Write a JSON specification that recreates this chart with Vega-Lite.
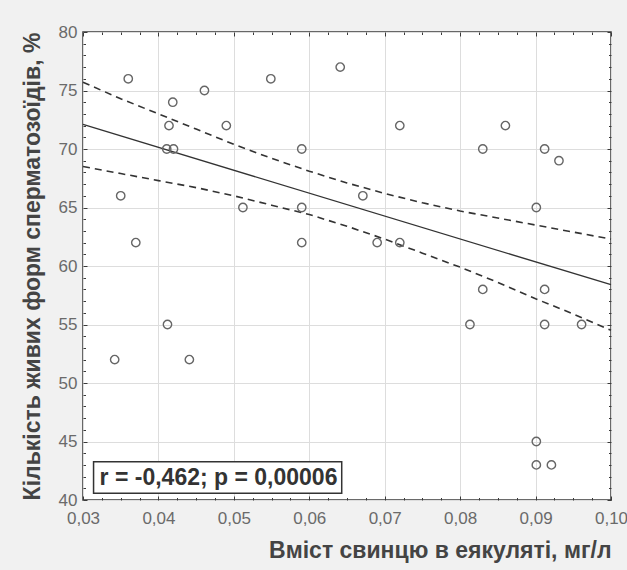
{
  "$schema": "https://vega.github.io/schema/vega-lite/v6.json",
  "width": 528,
  "height": 468,
  "autosize": "none",
  "padding": {"left": 83, "top": 32, "right": 16, "bottom": 70},
  "background": "#f1f1f1",
  "config": {
    "view": {"fill": "white", "stroke": "#3a3a3a", "strokeWidth": 1.5},
    "font": "Liberation Sans"
  },
  "datasets": {
    "points": [
      {"x": 0.036, "y": 76}, {"x": 0.035, "y": 66}, {"x": 0.037, "y": 62},
      {"x": 0.0414, "y": 72}, {"x": 0.0419, "y": 74}, {"x": 0.0411, "y": 70},
      {"x": 0.042, "y": 70}, {"x": 0.0461, "y": 75}, {"x": 0.049, "y": 72},
      {"x": 0.0512, "y": 65}, {"x": 0.0549, "y": 76}, {"x": 0.059, "y": 70},
      {"x": 0.059, "y": 65}, {"x": 0.059, "y": 62}, {"x": 0.0641, "y": 77},
      {"x": 0.072, "y": 72}, {"x": 0.0671, "y": 66}, {"x": 0.069, "y": 62},
      {"x": 0.072, "y": 62}, {"x": 0.083, "y": 70}, {"x": 0.086, "y": 72},
      {"x": 0.0912, "y": 70}, {"x": 0.0931, "y": 69}, {"x": 0.0901, "y": 65},
      {"x": 0.083, "y": 58}, {"x": 0.0912, "y": 58}, {"x": 0.0813, "y": 55},
      {"x": 0.0912, "y": 55}, {"x": 0.0961, "y": 55}, {"x": 0.0901, "y": 45},
      {"x": 0.0901, "y": 43}, {"x": 0.0921, "y": 43}, {"x": 0.0412, "y": 55},
      {"x": 0.0342, "y": 52}, {"x": 0.0441, "y": 52}
    ],
    "fit": [
      {"x": 0.03, "y": 72.1}, {"x": 0.10, "y": 58.4}
    ],
    "band": [
      {"series": "upper", "x": 0.030, "y": 75.7},
      {"series": "upper", "x": 0.035, "y": 74.3},
      {"series": "upper", "x": 0.040, "y": 73.0},
      {"series": "upper", "x": 0.045, "y": 71.7},
      {"series": "upper", "x": 0.050, "y": 70.4},
      {"series": "upper", "x": 0.055, "y": 69.2},
      {"series": "upper", "x": 0.060, "y": 68.1},
      {"series": "upper", "x": 0.065, "y": 67.1},
      {"series": "upper", "x": 0.070, "y": 66.2},
      {"series": "upper", "x": 0.075, "y": 65.4},
      {"series": "upper", "x": 0.080, "y": 64.7},
      {"series": "upper", "x": 0.085, "y": 64.1},
      {"series": "upper", "x": 0.090, "y": 63.5},
      {"series": "upper", "x": 0.095, "y": 62.9},
      {"series": "upper", "x": 0.100, "y": 62.3},
      {"series": "lower", "x": 0.030, "y": 68.5},
      {"series": "lower", "x": 0.035, "y": 67.9},
      {"series": "lower", "x": 0.040, "y": 67.3},
      {"series": "lower", "x": 0.045, "y": 66.7},
      {"series": "lower", "x": 0.050, "y": 66.0},
      {"series": "lower", "x": 0.055, "y": 65.2},
      {"series": "lower", "x": 0.060, "y": 64.4},
      {"series": "lower", "x": 0.065, "y": 63.4},
      {"series": "lower", "x": 0.070, "y": 62.3},
      {"series": "lower", "x": 0.075, "y": 61.1},
      {"series": "lower", "x": 0.080, "y": 59.9},
      {"series": "lower", "x": 0.085, "y": 58.6},
      {"series": "lower", "x": 0.090, "y": 57.2},
      {"series": "lower", "x": 0.095, "y": 55.9},
      {"series": "lower", "x": 0.100, "y": 54.5}
    ]
  },
  "layer": [
    {
      "data": {"name": "fit"},
      "mark": {"type": "line", "stroke": "#333333", "strokeWidth": 1.3},
      "encoding": {
        "x": {
          "field": "x", "type": "quantitative",
          "scale": {"domain": [0.03, 0.10], "nice": false, "zero": false},
          "axis": {
            "orient": "top", "labels": false, "grid": false, "domain": false, "title": null,
            "values": [0.03,0.0325,0.035,0.0375,0.04,0.0425,0.045,0.0475,0.05,0.0525,0.055,0.0575,0.06,0.0625,0.065,0.0675,0.07,0.0725,0.075,0.0775,0.08,0.0825,0.085,0.0875,0.09,0.0925,0.095,0.0975,0.1],
            "tickColor": "#3a3a3a",
            "tickSize": {"condition": {"test": "abs(datum.value*100-round(datum.value*100))<1e-6", "value": -4}, "value": -2.5}
          }
        },
        "y": {
          "field": "y", "type": "quantitative",
          "scale": {"domain": [40, 80], "nice": false, "zero": false},
          "axis": {
            "orient": "right", "labels": false, "grid": false, "domain": false, "title": null,
            "values": [40,41,42,43,44,45,46,47,48,49,50,51,52,53,54,55,56,57,58,59,60,61,62,63,64,65,66,67,68,69,70,71,72,73,74,75,76,77,78,79,80],
            "tickColor": "#3a3a3a",
            "tickSize": {"condition": {"test": "datum.value % 5 == 0", "value": -4}, "value": -2.5}
          }
        }
      }
    },
    {
      "data": {"name": "band"},
      "mark": {"type": "line", "stroke": "#333333", "strokeWidth": 1.6, "strokeDash": [7, 5]},
      "encoding": {
        "x": {"field": "x", "type": "quantitative", "axis": null},
        "y": {"field": "y", "type": "quantitative", "axis": null},
        "detail": {"field": "series"}
      }
    },
    {
      "data": {"values": [{}]},
      "mark": {"type": "rect", "fill": "white", "stroke": "#333333", "strokeWidth": 1.5},
      "encoding": {
        "x": {"datum": 0.0314, "type": "quantitative", "axis": null},
        "x2": {"datum": 0.0643},
        "y": {"datum": 43.27, "type": "quantitative", "axis": null},
        "y2": {"datum": 40.57}
      }
    },
    {
      "data": {"values": [{"label": "r = -0,462; p = 0,00006"}]},
      "mark": {"type": "text", "align": "left", "baseline": "middle", "fontSize": 23, "fontWeight": "bold", "color": "#333333"},
      "encoding": {
        "x": {"datum": 0.0322, "type": "quantitative", "axis": null},
        "y": {"datum": 41.9, "type": "quantitative", "axis": null},
        "text": {"field": "label"}
      }
    },
    {
      "data": {"name": "points"},
      "mark": {"type": "point", "shape": "circle", "filled": false, "stroke": "#666666", "strokeWidth": 1.4, "size": 70, "opacity": 1},
      "encoding": {
        "x": {
          "field": "x", "type": "quantitative",
          "scale": {"domain": [0.03, 0.10], "nice": false, "zero": false},
          "axis": {
            "orient": "bottom", "domain": false,
            "values": [0.03,0.0325,0.035,0.0375,0.04,0.0425,0.045,0.0475,0.05,0.0525,0.055,0.0575,0.06,0.0625,0.065,0.0675,0.07,0.0725,0.075,0.0775,0.08,0.0825,0.085,0.0875,0.09,0.0925,0.095,0.0975,0.1],
            "labelExpr": "abs(datum.value*100-round(datum.value*100))<1e-6 ? replace(format(datum.value,'.2f'),'.',',') : ''",
            "labelFlush": false, "labelOverlap": false,
            "labelFontSize": 17, "labelColor": "#6a6a6a", "labelPadding": 14,
            "tickColor": "#3a3a3a",
            "tickSize": {"condition": {"test": "abs(datum.value*100-round(datum.value*100))<1e-6", "value": -4}, "value": -2.5},
            "grid": true, "gridColor": "#dddddd", "gridWidth": 1,
            "gridOpacity": {"condition": {"test": "abs(datum.value*100-round(datum.value*100))<1e-6", "value": 1}, "value": 0},
            "title": "Вміст свинцю в еякуляті, мг/л",
            "titleAnchor": "end", "titleFontSize": 23, "titleFontWeight": "bold", "titleColor": "#444444", "titlePadding": 12
          }
        },
        "y": {
          "field": "y", "type": "quantitative",
          "scale": {"domain": [40, 80], "nice": false, "zero": false},
          "axis": {
            "orient": "left", "domain": false,
            "values": [40,41,42,43,44,45,46,47,48,49,50,51,52,53,54,55,56,57,58,59,60,61,62,63,64,65,66,67,68,69,70,71,72,73,74,75,76,77,78,79,80],
            "labelExpr": "datum.value % 5 == 0 ? datum.label : ''",
            "labelFlush": false, "labelOverlap": false,
            "labelFontSize": 17, "labelColor": "#6a6a6a", "labelPadding": 10,
            "tickColor": "#3a3a3a",
            "tickSize": {"condition": {"test": "datum.value % 5 == 0", "value": -4}, "value": -2.5},
            "grid": true, "gridColor": "#dddddd", "gridWidth": 1,
            "gridOpacity": {"condition": {"test": "datum.value % 5 == 0", "value": 1}, "value": 0},
            "title": "Кількість живих форм сперматозоїдів, %",
            "titleFontSize": 23, "titleFontWeight": "bold", "titleColor": "#444444", "titlePadding": 14
          }
        }
      }
    }
  ],
  "resolve": {"axis": {"x": "independent", "y": "independent"}}
}
